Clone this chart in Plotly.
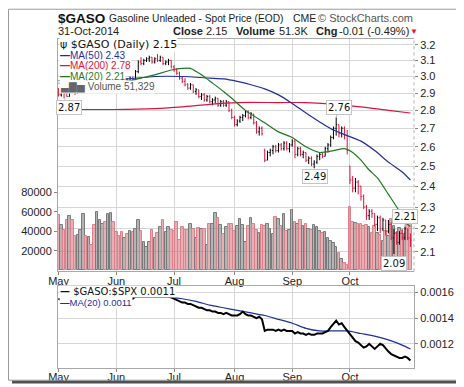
import math
import pandas as pd
import plotly.graph_objects as go

# ---------------- data ----------------
HOLIDAYS = ["2014-05-26", "2014-07-04", "2014-09-01"]
DATES = [d for d in pd.bdate_range("2014-05-01", "2014-10-31")
         if d.strftime("%Y-%m-%d") not in HOLIDAYS]

OPEN = [2.92, 2.89, 2.91, 2.90, 2.88, 2.92, 2.91, 2.90, 2.93, 2.95, 2.97, 2.95, 2.97, 2.96, 2.94, 2.98, 3.00, 3.01, 2.99, 3.01, 3.02,
        3.00, 2.99, 2.97, 2.96, 2.98, 2.97, 2.99, 2.98, 3.03, 3.09, 3.08, 3.10, 3.11, 3.12, 3.09, 3.11, 3.10, 3.12, 3.08, 3.09, 3.10,
        3.06, 3.04, 3.02, 2.99, 2.97, 2.95, 2.93, 2.95, 2.91, 2.92, 2.88, 2.89, 2.86, 2.88, 2.85, 2.86, 2.87, 2.83, 2.85, 2.83, 2.85, 2.80,
        2.76, 2.72, 2.74, 2.76, 2.77, 2.79, 2.76, 2.78, 2.73, 2.68, 2.70, 2.58, 2.53, 2.57, 2.58, 2.60, 2.58, 2.61, 2.59, 2.62, 2.59,
        2.61, 2.63, 2.56, 2.59, 2.56, 2.57, 2.53, 2.54, 2.51, 2.52, 2.55, 2.56, 2.55, 2.59, 2.61, 2.65, 2.70, 2.72, 2.67, 2.70, 2.66,
        2.50, 2.43, 2.39, 2.42, 2.40, 2.35, 2.30, 2.26, 2.28, 2.27, 2.22, 2.25, 2.20, 2.24, 2.19, 2.22, 2.16, 2.18, 2.14, 2.18, 2.16, 2.20, 2.16]
HIGH = [2.93, 2.93, 2.92, 2.91, 2.93, 2.94, 2.93, 2.94, 2.96, 2.98, 2.98, 2.98, 2.98, 2.97, 2.99, 3.01, 3.02, 3.02, 3.02, 3.03, 3.03,
        3.01, 3.00, 2.98, 2.99, 2.99, 3.00, 3.00, 3.04, 3.10, 3.12, 3.11, 3.12, 3.13, 3.12, 3.12, 3.14, 3.13, 3.12, 3.10, 3.11, 3.10,
        3.07, 3.05, 3.03, 3.00, 2.99, 2.96, 2.96, 2.95, 2.93, 2.92, 2.90, 2.90, 2.89, 2.89, 2.87, 2.88, 2.87, 2.86, 2.86, 2.86, 2.85, 2.81,
        2.77, 2.75, 2.77, 2.78, 2.80, 2.80, 2.79, 2.78, 2.74, 2.71, 2.71, 2.59, 2.58, 2.59, 2.61, 2.61, 2.62, 2.62, 2.63, 2.63, 2.62,
        2.64, 2.64, 2.60, 2.60, 2.58, 2.57, 2.55, 2.55, 2.53, 2.56, 2.57, 2.57, 2.60, 2.62, 2.66, 2.71, 2.76, 2.72, 2.71, 2.71, 2.69,
        2.50, 2.45, 2.44, 2.43, 2.40, 2.36, 2.31, 2.29, 2.29, 2.27, 2.26, 2.26, 2.25, 2.24, 2.24, 2.23, 2.20, 2.19, 2.19, 2.20, 2.21, 2.20, 2.18]
LOW = [2.88, 2.88, 2.87, 2.88, 2.88, 2.90, 2.89, 2.90, 2.92, 2.94, 2.94, 2.94, 2.95, 2.93, 2.94, 2.97, 2.99, 2.98, 2.98, 3.00, 2.99,
       2.97, 2.96, 2.95, 2.95, 2.96, 2.96, 2.97, 2.98, 3.02, 3.07, 3.07, 3.09, 3.09, 3.08, 3.08, 3.09, 3.09, 3.07, 3.07, 3.07, 3.05,
       3.03, 3.01, 2.98, 2.96, 2.94, 2.92, 2.92, 2.90, 2.89, 2.87, 2.86, 2.85, 2.85, 2.84, 2.83, 2.84, 2.82, 2.82, 2.82, 2.82, 2.79, 2.75,
       2.71, 2.71, 2.73, 2.74, 2.76, 2.75, 2.75, 2.72, 2.67, 2.66, 2.66, 2.52, 2.53, 2.55, 2.56, 2.57, 2.57, 2.58, 2.58, 2.58, 2.57,
       2.60, 2.54, 2.55, 2.55, 2.54, 2.52, 2.51, 2.50, 2.49, 2.51, 2.53, 2.54, 2.55, 2.57, 2.60, 2.64, 2.66, 2.65, 2.65, 2.64, 2.56,
       2.41, 2.37, 2.37, 2.36, 2.33, 2.29, 2.24, 2.24, 2.25, 2.21, 2.19, 2.18, 2.19, 2.17, 2.18, 2.15, 2.09, 2.13, 2.13, 2.15, 2.15, 2.15, 2.12]
CLOSE = [2.89, 2.91, 2.90, 2.88, 2.92, 2.91, 2.90, 2.93, 2.95, 2.97, 2.95, 2.97, 2.96, 2.94, 2.98, 3.00, 3.01, 2.99, 3.01, 3.02, 3.00,
         2.99, 2.97, 2.96, 2.98, 2.97, 2.99, 2.98, 3.03, 3.09, 3.08, 3.10, 3.11, 3.12, 3.09, 3.11, 3.10, 3.12, 3.08, 3.09, 3.10, 3.06,
         3.04, 3.02, 2.99, 2.97, 2.95, 2.93, 2.95, 2.91, 2.92, 2.88, 2.89, 2.86, 2.88, 2.85, 2.86, 2.87, 2.83, 2.85, 2.83, 2.85, 2.80, 2.76,
         2.72, 2.74, 2.76, 2.77, 2.79, 2.76, 2.78, 2.73, 2.68, 2.70, 2.67, 2.53, 2.57, 2.58, 2.60, 2.58, 2.61, 2.59, 2.62, 2.59, 2.61,
         2.63, 2.56, 2.59, 2.56, 2.57, 2.53, 2.54, 2.51, 2.52, 2.55, 2.56, 2.55, 2.59, 2.61, 2.65, 2.70, 2.72, 2.67, 2.70, 2.66, 2.58,
         2.43, 2.39, 2.42, 2.40, 2.35, 2.30, 2.26, 2.28, 2.27, 2.22, 2.25, 2.20, 2.24, 2.19, 2.22, 2.16, 2.18, 2.14, 2.18, 2.16, 2.20, 2.16, 2.15]
VOLUME = [57000, 46000, 41000, 52000, 56000, 52000, 35000, 36000, 41000, 58000, 35000, 34000, 26000, 46000, 60000, 52000, 47000, 50000, 58000, 59000, 50000,
          39000, 35000, 39000, 33000, 37000, 40000, 39000, 42000, 52000, 40000, 29000, 24000, 29000, 41000, 33000, 38000, 44000, 52000, 39000, 44000, 41000,
          40000, 50000, 31000, 44000, 41000, 41000, 47000, 42000, 33000, 43000, 42000, 42000, 26000, 48000, 47000, 59000, 54000, 46000, 37000, 44000, 48000, 47000,
          40000, 45000, 53000, 46000, 29000, 45000, 54000, 48000, 41000, 38000, 46000, 45000, 48000, 42000, 37000, 55000, 53000, 45000, 58000, 40000, 41000,
          62000, 50000, 47000, 52000, 45000, 48000, 42000, 41000, 46000, 44000, 40000, 38000, 39000, 33000, 30000, 28000, 24000, 18000, 12000, 8000, 5000,
          65000, 50000, 49000, 48000, 47000, 45000, 46000, 44000, 38000, 45000, 38000, 36000, 30000, 40000, 35000, 53000, 45000, 38000, 43000, 40000, 37000, 58000, 51329]
RATIO = [0.00155, 0.00154, 0.00154, 0.00153, 0.00155, 0.00154, 0.00154, 0.00155, 0.00156, 0.00157, 0.00156, 0.00157, 0.00156, 0.00155, 0.00157, 0.00158, 0.00158, 0.00157, 0.00157, 0.00158, 0.00157,
         0.00156, 0.00155, 0.00155, 0.00156, 0.00155, 0.00156, 0.00155, 0.00157, 0.00159, 0.00158, 0.00160, 0.00161, 0.00161, 0.00159, 0.00160, 0.00159, 0.00160, 0.00158, 0.00158, 0.00157, 0.00156,
         0.00155, 0.00154, 0.00153, 0.00152, 0.00152, 0.00151, 0.00151, 0.00150, 0.00149, 0.00148, 0.00148, 0.00147, 0.00146, 0.00146, 0.00145, 0.00145, 0.00144, 0.00144, 0.00143, 0.00144, 0.00143, 0.00142,
         0.00142, 0.00142, 0.00143, 0.00145, 0.00143, 0.00142, 0.00142, 0.00141, 0.00140, 0.00141, 0.00139, 0.00130, 0.00131, 0.00131, 0.00131, 0.00130, 0.00131, 0.00130, 0.00131, 0.00130, 0.00130,
         0.00130, 0.00128, 0.00129, 0.00128, 0.00128, 0.00127, 0.00128, 0.00127, 0.00127, 0.00128, 0.00128, 0.00128, 0.00129, 0.00130, 0.00133, 0.00136, 0.00138, 0.00135, 0.00136, 0.00133, 0.00130,
         0.00127, 0.00125, 0.00122, 0.00121, 0.00119, 0.00117, 0.00118, 0.00120, 0.00118, 0.00116, 0.00118, 0.00120, 0.00119, 0.00116, 0.00114, 0.00112, 0.00111, 0.00110, 0.00109, 0.00109, 0.00110, 0.00109, 0.00107]

MA200_DAY = [0, 20, 35, 45, 55, 65, 80, 90, 100, 110, 120, 128]
MA200 = [2.805, 2.805, 2.81, 2.82, 2.835, 2.845, 2.845, 2.845, 2.835, 2.82, 2.80, 2.785]
MA50_DAY = [0, 15, 25, 35, 45, 55, 60, 65, 70, 75, 80, 85, 90, 95, 100, 105, 110, 115, 120, 125, 128]
MA50 = [2.975, 2.975, 2.985, 3.00, 3.00, 2.99, 2.985, 2.97, 2.95, 2.925, 2.89, 2.84, 2.785, 2.735, 2.69, 2.66, 2.63, 2.58, 2.52, 2.47, 2.43]
MA20_DAY = [0, 10, 20, 25, 30, 35, 41, 45, 48, 52, 56, 60, 63, 68, 75, 80, 85, 90, 95, 100, 104, 107, 110, 113, 116, 120, 124, 126, 128]
MA20 = [2.96, 2.95, 2.96, 2.97, 2.99, 3.01, 3.04, 3.05, 3.05, 3.01, 2.96, 2.91, 2.87, 2.80, 2.73, 2.68, 2.65, 2.60, 2.57, 2.58, 2.59, 2.57, 2.53, 2.48, 2.44, 2.36, 2.28, 2.23, 2.21]
RATIO_MA_DAY = [0, 20, 28, 40, 45, 50, 55, 60, 65, 70, 75, 80, 85, 90, 95, 100, 105, 110, 115, 120, 125, 128]
RATIO_MA = [0.00155, 0.00156, 0.00156, 0.00156, 0.00155, 0.00153, 0.00150, 0.00148, 0.00146, 0.00144, 0.00142, 0.00139, 0.00136, 0.00132, 0.00130, 0.00130, 0.00130, 0.00128, 0.00126, 0.00123, 0.00119, 0.00116]

PRICE_TICKS = [2.1, 2.2, 2.3, 2.4, 2.5, 2.6, 2.7, 2.8, 2.9, 3.0, 3.1, 3.2]
VOLUME_TICKS = [20000, 40000, 60000, 80000]
RATIO_TICKS = [0.0012, 0.0014, 0.0016]
MONTH_NAMES = ["May", "Jun", "Jul", "Aug", "Sep", "Oct"]

# callouts: (day index, value, text offset px)
CALLOUTS = [(2, 2.87, 5, 9), (101, 2.76, 3, -10), (93, 2.49, 1, 8), (126, 2.21, 0, -10), (122, 2.09, 0, 9)]

# ---------------- layout helpers ----------------
W, H = 464, 387
PL, PR, PT, PB = 50, 406, 31, 368


def pxx(x):
    return (x - PL) / (PR - PL)


def pxy(y):
    return (PB - y) / (PB - PT)


MAIN_DOM = [pxy(269), 1.0]
LOW_DOM = [0.0, pxy(284)]

N = len(DATES)
X = list(range(N))
month_idx = [i for i in range(N) if i == 0 or DATES[i].month != DATES[i - 1].month]

RED = "#dc143c"
BLUE = "#1f2f9e"
GREEN = "#1f7a1f"
GRID = "#d6d6d6"

up = [i for i in X if (CLOSE[i] >= (CLOSE[i - 1] if i > 0 else OPEN[i]))]
dn = [i for i in X if i not in up]

fig = go.Figure()

# volume (base y axis, left)
fig.add_trace(go.Bar(
    x=X, y=VOLUME, xaxis="x", yaxis="y",
    marker=dict(color=["rgba(105,105,105,0.5)" if i in up else "rgba(214,96,108,0.5)" for i in X],
                line=dict(color=["#7a7a7a" if i in up else "#d9828b" for i in X], width=1)),
    width=0.92, showlegend=False, hoverinfo="skip"))

# moving averages of price
for days, vals, col in [(MA200_DAY, MA200, RED), (MA50_DAY, MA50, BLUE), (MA20_DAY, MA20, GREEN)]:
    fig.add_trace(go.Scatter(x=days, y=vals, xaxis="x", yaxis="y2", mode="lines",
                             line=dict(color=col, width=1.2, shape="spline", smoothing=0.6),
                             showlegend=False, hoverinfo="skip"))

# price OHLC bars
for idx, col in [(up, "#000000"), (dn, RED)]:
    fig.add_trace(go.Ohlc(
        x=idx, open=[OPEN[i] for i in idx], high=[HIGH[i] for i in idx],
        low=[LOW[i] for i in idx], close=[CLOSE[i] for i in idx],
        xaxis="x", yaxis="y2",
        increasing=dict(line=dict(color=col, width=1)),
        decreasing=dict(line=dict(color=col, width=1)),
        tickwidth=0.35, showlegend=False, hoverinfo="skip"))

# ratio panel
fig.add_trace(go.Scatter(x=RATIO_MA_DAY, y=RATIO_MA, xaxis="x2", yaxis="y3", mode="lines",
                         line=dict(color=BLUE, width=1.2, shape="spline", smoothing=0.6),
                         showlegend=False, hoverinfo="skip"))
fig.add_trace(go.Scatter(x=X, y=RATIO, xaxis="x2", yaxis="y3", mode="lines",
                         line=dict(color="#000000", width=2),
                         showlegend=False, hoverinfo="skip"))

XR = [-0.2, 129.3]
tickfont = dict(family="Liberation Sans", size=11, color="#222")
xcommon = dict(range=XR, tickmode="array", tickvals=[month_idx[k] for k in range(len(MONTH_NAMES))],
               ticktext=MONTH_NAMES, showgrid=True, gridcolor=GRID, gridwidth=1,
               ticks="outside", ticklen=3, tickcolor="#888", tickfont=tickfont,
               ticklabelstandoff=-4,
               showline=True, linecolor="#a8a8a8", linewidth=1, mirror=True, zeroline=False,
               fixedrange=True)

lo = math.log10(2.0176)
hi = math.log10(3.238)

fig.update_layout(
    width=W, height=H,
    margin=dict(l=PL, r=W - PR, t=PT, b=H - PB, pad=0),
    paper_bgcolor="white", plot_bgcolor="white",
    font=dict(family="Liberation Sans", size=11, color="#222"),
    showlegend=False, bargap=0,
    xaxis=dict(domain=[0, 1], anchor="y", rangeslider=dict(visible=False), **xcommon),
    xaxis2=dict(domain=[0, 1], anchor="y3", **xcommon),
    yaxis=dict(domain=MAIN_DOM, side="left", range=[-1000, 237000], tickmode="array",
               tickvals=VOLUME_TICKS, ticktext=[str(v) for v in VOLUME_TICKS],
               showgrid=False, zeroline=False, ticks="outside", ticklen=3, tickcolor="#888",
               tickfont=tickfont, showline=True, linecolor="#a8a8a8", linewidth=1),
    yaxis2=dict(overlaying="y", side="right", anchor="x", type="log", range=[lo, hi],
                tickmode="array", tickvals=PRICE_TICKS, ticktext=["%.1f" % v for v in PRICE_TICKS],
                showgrid=True, gridcolor=GRID, zeroline=False, ticks="outside", ticklen=3,
                tickcolor="#888", tickfont=tickfont, showline=False),
    yaxis3=dict(domain=LOW_DOM, anchor="x2", side="right", range=[0.001012, 0.001649],
                tickmode="array", tickvals=RATIO_TICKS, ticktext=["%.4f" % v for v in RATIO_TICKS],
                showgrid=True, gridcolor=GRID, zeroline=False, ticks="outside", ticklen=3,
                tickcolor="#888", tickfont=tickfont, showline=True, linecolor="#a8a8a8", mirror=True),
)

shapes = []
# dotted right border of main panel
shapes.append(dict(type="line", xref="paper", yref="paper", x0=1, x1=1, y0=MAIN_DOM[0], y1=1,
                   line=dict(color="#b0b0b0", width=1, dash="dot")))
# outer frame and drop shadow
shapes.append(dict(type="rect", xref="paper", yref="paper", x0=pxx(0.5), x1=pxx(459), y0=pxy(0.5), y1=pxy(380.5),
                   line=dict(color="#9a9a9a", width=1), fillcolor="rgba(0,0,0,0)", layer="above"))
shapes.append(dict(type="rect", xref="paper", yref="paper", x0=pxx(459.5), x1=pxx(463), y0=pxy(4), y1=pxy(384),
                   line=dict(width=0), fillcolor="#505050", layer="above"))
shapes.append(dict(type="rect", xref="paper", yref="paper", x0=pxx(4), x1=pxx(463), y0=pxy(381), y1=pxy(384),
                   line=dict(width=0), fillcolor="#505050", layer="above"))
fig.update_layout(shapes=shapes)

ann = []


def text(x, y, s, size=11, color="#222", family="Liberation Sans", anchor="left", bg=None):
    d = dict(xref="paper", yref="paper", x=pxx(x), y=pxy(y), text=s, showarrow=False,
             xanchor=anchor, yanchor="middle", font=dict(size=size, color=color, family=family))
    if bg:
        d.update(bgcolor=bg, borderpad=0)
    ann.append(d)


# header
text(48, 10, "<b>$GASO</b>", size=13.5, color="#111")
text(99, 10, "Gasoline Unleaded - Spot Price (EOD)", size=10.2)
text(283, 10, "CME", size=10.5)
text(407, 10, "\u00a9 StockCharts.com", size=11, color="#555", anchor="right")
text(48, 23, "31-Oct-2014", size=11)
text(163, 23, "<b>Close</b>", size=11)
text(196, 23, "2.15", size=11)
text(226, 23, "<b>Volume</b>", size=11)
text(269, 23, "51.3K", size=11)
text(306, 23, "<b>Chg</b>", size=11)
text(329, 23, "-0.01 (-0.49%)", size=11)
text(400, 23, "\u25bc", size=8, color=RED)

# main legend
text(51, 36.5, "\u03c8 $GASO (Daily) 2.15", size=11, color="#111", family="DejaVu Sans", bg="white")
text(51, 47.5, "<b>\u2014</b>MA(50) 2.43", size=10, color=BLUE, bg="white")
text(51, 58.5, "<b>\u2014</b>MA(200) 2.78", size=10, color=RED, bg="white")
text(51, 69.5, "<b>\u2014</b>MA(20) 2.21", size=10, color=GREEN, bg="white")
text(51, 80.5, "<span style='color:#666'>\u2583\u2587\u2585</span> Volume 51,329", size=10, color="#555", bg="white")

# ratio legend
text(51, 289.5, "<b>\u2014</b> $GASO:$SPX 0.0011", size=10, color="#111", family="DejaVu Sans", bg="white")
text(51, 300.5, "<b>\u2014</b>MA(20) 0.0011", size=9.5, color=BLUE, bg="white")

# callouts
for d, v, ax, ay in CALLOUTS:
    ann.append(dict(xref="x", yref="y2", x=d, y=math.log10(v), text="%.2f" % v,
                    showarrow=True, arrowhead=0, arrowwidth=1, arrowcolor="#bbbbbb",
                    ax=ax, ay=ay, bgcolor="white", bordercolor="#c4c4c4", borderwidth=1, borderpad=1,
                    font=dict(size=10, color="#111", family="DejaVu Sans")))

fig.update_layout(annotations=ann)
fig.write_html("out.html")
